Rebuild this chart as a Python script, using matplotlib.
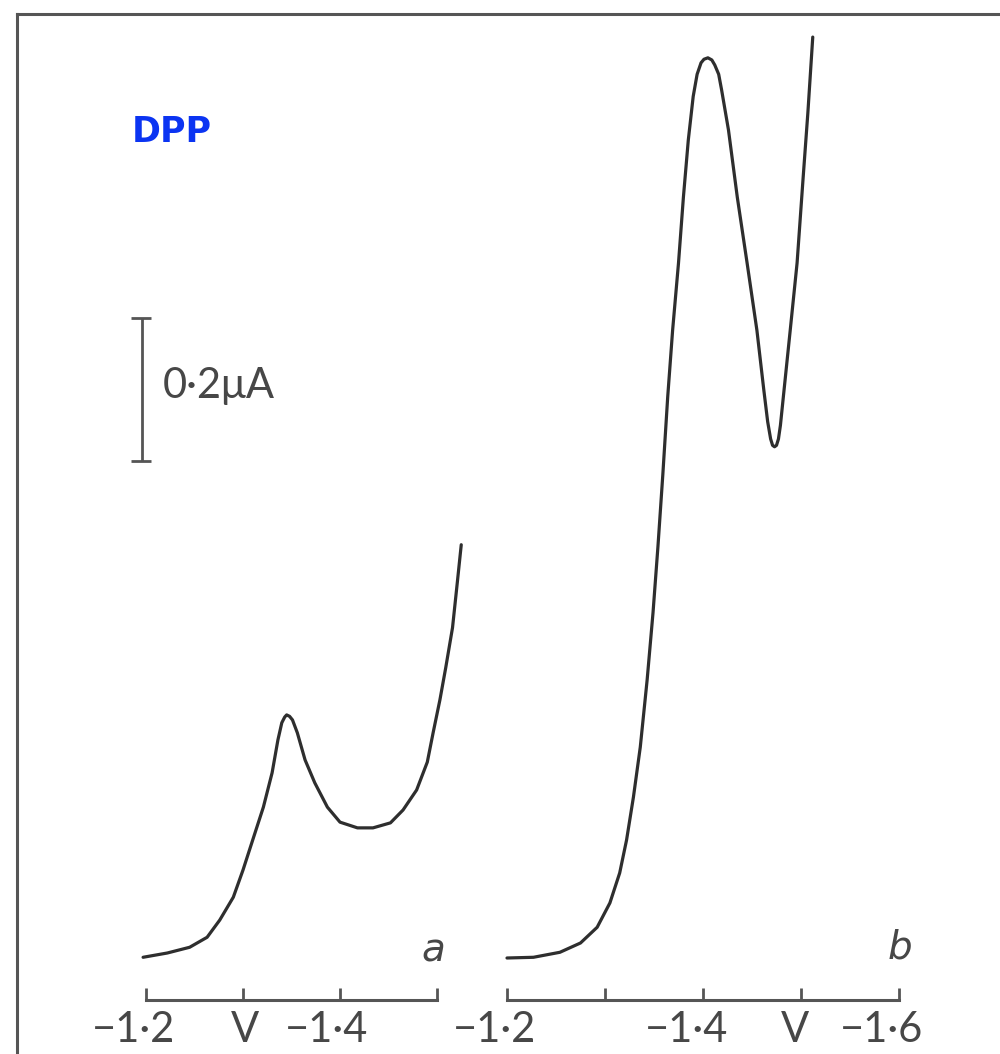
import numpy as np
import matplotlib.pyplot as plt
from matplotlib.lines import Line2D

# curve a: potential (V) and current (uA)
volt_a = [-1.197, -1.222, -1.245, -1.263, -1.276, -1.290, -1.300, -1.310, -1.321,
          -1.330, -1.336, -1.340, -1.343, -1.345, -1.348, -1.351, -1.356, -1.364,
          -1.374, -1.387, -1.400, -1.418, -1.434, -1.452, -1.465, -1.479, -1.490,
          -1.496, -1.503, -1.509, -1.516, -1.521, -1.525]
curr_a = [0.001, 0.007, 0.015, 0.029, 0.053, 0.085, 0.123, 0.165, 0.211,
          0.259, 0.305, 0.329, 0.337, 0.340, 0.338, 0.333, 0.315, 0.277,
          0.245, 0.211, 0.190, 0.182, 0.182, 0.189, 0.207, 0.235, 0.274,
          0.315, 0.361, 0.406, 0.462, 0.526, 0.578]

# curve b
volt_b = [-1.200, -1.227, -1.254, -1.275, -1.292, -1.305, -1.315, -1.322, -1.329,
          -1.336, -1.343, -1.349, -1.354, -1.359, -1.364, -1.369, -1.375, -1.380,
          -1.385, -1.390, -1.394, -1.398, -1.401, -1.405, -1.409, -1.412, -1.416,
          -1.419, -1.426, -1.435, -1.445, -1.455, -1.462, -1.466, -1.469, -1.471,
          -1.473, -1.475, -1.477, -1.479, -1.482, -1.489, -1.496, -1.502, -1.507,
          -1.512]
curr_b = [0.000, 0.001, 0.008, 0.021, 0.043, 0.077, 0.119, 0.165, 0.225,
          0.295, 0.389, 0.483, 0.575, 0.676, 0.785, 0.878, 0.972, 1.064,
          1.144, 1.205, 1.236, 1.252, 1.257, 1.259, 1.256, 1.249, 1.236,
          1.214, 1.158, 1.064, 0.972, 0.878, 0.795, 0.750, 0.726, 0.717,
          0.715, 0.717, 0.726, 0.745, 0.785, 0.878, 0.972, 1.088, 1.182,
          1.288]

ticks_a = [-1.2, -1.3, -1.4, -1.5]
ticks_b = [-1.2, -1.3, -1.4, -1.5, -1.6]
labels_a = ['−1·2', 'V', '−1·4']
labels_a_x = [-1.187, -1.302, -1.386]
labels_b = ['−1·2', '−1·4', 'V', '−1·6']
labels_b_x = [-1.187, -1.383, -1.494, -1.582]

scale_bar = 0.2      # uA
scale_bottom = 0.695

W, H = 1000, 1054
fig = plt.figure(figsize=(W / 100, H / 100), dpi=100)
fig.patch.set_facecolor('white')

ink = '#2e2e2e'
axis_grey = '#555555'
label_font = dict(family='Lato', fontweight='normal', fontsize=30, color='#474747')

# same current scale for both panels, separate potential scales
ylim = ((958 - 1054) / 715, 958 / 715)
axis_y = (958 - 1000) / 715
label_y = (958 - 1030) / 715

ax_a = fig.add_axes([0, 0, 1, 1])
ax_a.set_xlim(-1.2 + 146 / 970, -1.2 - (1000 - 146) / 970)
ax_b = fig.add_axes([0, 0, 1, 1])
ax_b.set_xlim(-1.2 + 507 / 980, -1.2 - (1000 - 507) / 980)

for ax, ticks, labels, lx in [(ax_a, ticks_a, labels_a, labels_a_x),
                              (ax_b, ticks_b, labels_b, labels_b_x)]:
    ax.set_ylim(*ylim)
    ax.patch.set_alpha(0)
    for s in ['top', 'left', 'right']:
        ax.spines[s].set_visible(False)
    ax.spines['bottom'].set_position(('data', axis_y))
    ax.spines['bottom'].set_bounds(ticks[0], ticks[-1])
    ax.spines['bottom'].set_linewidth(2.2)
    ax.spines['bottom'].set_color(axis_grey)
    ax.set_xticks(ticks)
    ax.set_yticks([])
    ax.tick_params(axis='x', direction='in', length=9, width=2, color=axis_grey,
                   labelbottom=False)
    for t, x in zip(labels, lx):
        ax.text(x, label_y, t, ha='center', va='center', **label_font)

ax_a.plot(volt_a, curr_a, color=ink, lw=2.3, solid_capstyle='round', solid_joinstyle='round')
ax_b.plot(volt_b, curr_b, color=ink, lw=2.3, solid_capstyle='round', solid_joinstyle='round')

ax_a.text(-1.496, 0.011, 'a', style='italic', fontsize=28, color='#474747',
          ha='center', va='center', family='DejaVu Sans')
ax_b.text(-1.601, 0.014, 'b', style='italic', fontsize=28, color='#474747',
          ha='center', va='center', family='DejaVu Sans')

# 0.2 uA scale bar
bar_x = -1.2 - (142 - 146) / 970
ax_a.vlines(bar_x, scale_bottom, scale_bottom + scale_bar, color=axis_grey, lw=2)
ax_a.hlines([scale_bottom, scale_bottom + scale_bar], bar_x + 0.0115, bar_x - 0.0095,
            color=axis_grey, lw=2)
ax_a.text(-1.2175, scale_bottom + scale_bar / 2 + 0.005, '0·2μA', ha='left', va='center',
          **label_font)

ax_a.text(-1.2268, (958 - 132) / 715, 'DPP', color='#0b34f2', fontsize=25,
          fontweight='bold', family='DejaVu Sans', ha='center', va='center')

# frame of the scanned figure
fig.add_artist(Line2D([17 / W, 1], [1 - 14 / H, 1 - 14 / H], color='#555555', lw=2.2))
fig.add_artist(Line2D([17 / W, 17 / W], [0, 1 - 14 / H], color='#555555', lw=2.2))

fig.savefig('out.png', dpi=100, facecolor='white')
